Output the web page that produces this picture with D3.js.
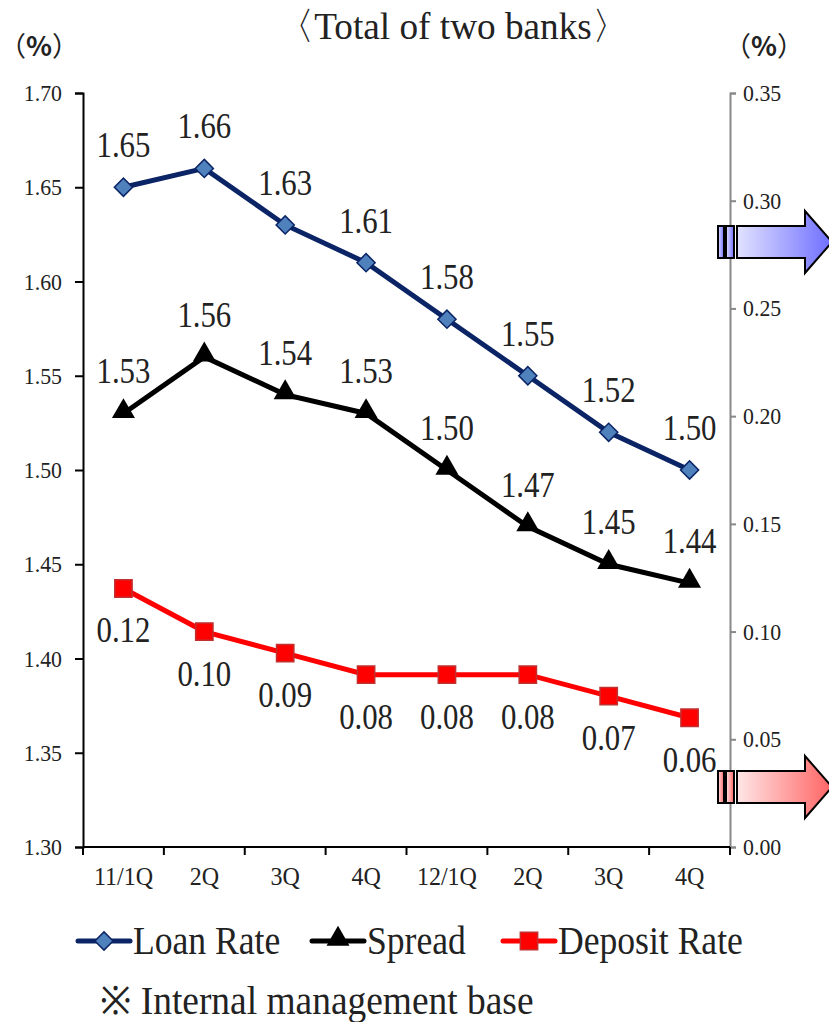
<!DOCTYPE html>
<html>
<head>
<meta charset="utf-8">
<script src="https://cdn.jsdelivr.net/npm/d3@7/dist/d3.min.js"></script>
<style>
  html, body { margin: 0; padding: 0; background: #fff; }
  svg { display: block; }
</style>
</head>
<body>
<svg id="chart" width="829" height="1022"></svg>
<script>
// Quarterly rates, total of two banks
const quarters = ["11/1Q", "2Q", "3Q", "4Q", "12/1Q", "2Q ", "3Q ", "4Q "];
const quarterLabels = ["11/1Q", "2Q", "3Q", "4Q", "12/1Q", "2Q", "3Q", "4Q"];
const loanRate = [1.65, 1.66, 1.63, 1.61, 1.58, 1.55, 1.52, 1.50];
const spread = [1.53, 1.56, 1.54, 1.53, 1.50, 1.47, 1.45, 1.44];
const depositRate = [0.12, 0.10, 0.09, 0.08, 0.08, 0.08, 0.07, 0.06];
const leftTicks = [1.30, 1.35, 1.40, 1.45, 1.50, 1.55, 1.60, 1.65, 1.70];
const rightTicks = [0.00, 0.05, 0.10, 0.15, 0.20, 0.25, 0.30, 0.35];

const svg = d3.select("#chart");
const serif = "'Liberation Serif', 'Times New Roman', serif";
const ink = "#222";
const SX = 0.88; // horizontal condensing of the serif face

const plot = { left: 83, right: 730, top: 93, bottom: 847 };

const x = d3.scaleBand().domain(quarters).range([plot.left, plot.right]);
const yL = d3.scaleLinear().domain([1.30, 1.70]).range([plot.bottom, plot.top]);
const yR = d3.scaleLinear().domain([0.00, 0.35]).range([plot.bottom, plot.top]);
const cx = (d, i) => x(quarters[i]) + x.bandwidth() / 2;

// Condensed serif text placed at (px, py)
function ctext(parent, px, py, str, size, anchor, sx = SX) {
  return parent.append("text")
    .attr("transform", `translate(${px},${py}) scale(${sx},1)`)
    .attr("text-anchor", anchor || "start")
    .attr("font-family", serif).attr("font-size", size).attr("fill", ink)
    .text(str);
}

// Gradients for the side arrows
const defs = svg.append("defs");
function grad(id, c0, c1) {
  const g = defs.append("linearGradient").attr("id", id)
    .attr("x1", "0%").attr("x2", "100%").attr("y1", "0%").attr("y2", "0%");
  g.append("stop").attr("offset", "0%").attr("stop-color", c0);
  g.append("stop").attr("offset", "100%").attr("stop-color", c1);
}
grad("gBlue", "#e2e2ff", "#6e6eff");
grad("gRed", "#ffe6e6", "#ff6464");

// Title and unit labels
ctext(svg, 453, 39, "〈Total of two banks〉", 38, "middle", 0.98);
function unit(px) {
  const t = svg.append("text").attr("x", px).attr("y", 56).attr("text-anchor", "middle")
    .attr("font-family", "'Noto Sans CJK JP', 'Noto Sans', sans-serif").attr("font-size", 27).attr("fill", ink);
  t.append("tspan").text("（");
  t.append("tspan").attr("font-weight", "bold").text("%");
  t.append("tspan").text("）");
}
unit(39);
unit(764);

// Axes
const leftAxis = svg.append("g").attr("transform", `translate(${plot.left},0)`)
  .call(d3.axisLeft(yL).tickValues(leftTicks).tickFormat(d3.format(".2f")).tickSize(8).tickPadding(6));
leftAxis.select(".domain").attr("stroke", "#000").attr("stroke-width", 2);
leftAxis.selectAll(".tick line").attr("stroke", "#000").attr("stroke-width", 2);
leftAxis.selectAll(".tick text").remove();
leftTicks.forEach(v => ctext(svg, 62, yL(v) + 8, d3.format(".2f")(v), 23, "end", 0.95));

const rightAxis = svg.append("g").attr("transform", `translate(${plot.right},0)`)
  .call(d3.axisRight(yR).tickValues(rightTicks).tickFormat(d3.format(".2f")).tickSize(6).tickPadding(8));
rightAxis.select(".domain").attr("stroke", "#888").attr("stroke-width", 2);
rightAxis.selectAll(".tick line").attr("stroke", "#888").attr("stroke-width", 2);
rightAxis.selectAll(".tick text").remove();
rightTicks.forEach(v => ctext(svg, 743, yR(v) + 8, d3.format(".2f")(v), 23, "start", 0.95));

const bottomAxis = svg.append("g").attr("transform", `translate(0,${plot.bottom})`);
bottomAxis.append("line").attr("x1", plot.left).attr("x2", plot.right)
  .attr("y1", 0).attr("y2", 0).attr("stroke", "#000").attr("stroke-width", 2);
const bounds = quarters.map(q => x(q)).concat([plot.right]);
bottomAxis.selectAll("line.bt").data(bounds).join("line").attr("class", "bt")
  .attr("x1", d => d).attr("x2", d => d).attr("y1", 0).attr("y2", 8)
  .attr("stroke", "#000").attr("stroke-width", 2);
quarters.forEach((q, i) => ctext(svg, cx(0, i), plot.bottom + 38, quarterLabels[i], 25, "middle", 0.96));

// Side arrows pointing to the right axis
function sideArrow(cy, fillId) {
  const g = svg.append("g");
  const bodyH = 32, headH = 62;
  g.append("rect").attr("x", 718).attr("y", cy - bodyH / 2).attr("width", 6).attr("height", bodyH)
    .attr("fill", `url(#${fillId})`).attr("stroke", "#000").attr("stroke-width", 2);
  g.append("rect").attr("x", 726).attr("y", cy - bodyH / 2).attr("width", 8).attr("height", bodyH)
    .attr("fill", `url(#${fillId})`).attr("stroke", "#000").attr("stroke-width", 2);
  const p = [[737, cy - bodyH / 2], [805, cy - bodyH / 2], [805, cy - headH / 2], [832, cy],
             [805, cy + headH / 2], [805, cy + bodyH / 2], [737, cy + bodyH / 2]];
  g.append("path").attr("d", d3.line()(p) + "Z")
    .attr("fill", `url(#${fillId})`).attr("stroke", "#000").attr("stroke-width", 2);
}
sideArrow(242, "gBlue");
sideArrow(787, "gRed");

// Series lines
const line = (scale) => d3.line().x(cx).y(d => scale(d));
svg.append("path").datum(loanRate).attr("d", line(yL))
  .attr("fill", "none").attr("stroke", "#0b2465").attr("stroke-width", 5);
svg.append("path").datum(spread).attr("d", line(yL))
  .attr("fill", "none").attr("stroke", "#000").attr("stroke-width", 5);
svg.append("path").datum(depositRate).attr("d", line(yR))
  .attr("fill", "none").attr("stroke", "#ff0000").attr("stroke-width", 5);

// Marker shapes
const diamondPath = d3.symbol().type(d3.symbolSquare).size(165)();
const trianglePath = d3.symbol().type(d3.symbolTriangle).size(230)();
const squarePath = d3.symbol().type(d3.symbolSquare).size(300)();

function diamond(g, tx, ty) {
  g.append("path").attr("transform", `translate(${tx},${ty}) rotate(45)`).attr("d", diamondPath)
    .attr("fill", "#4f81bd").attr("stroke", "#0b2465").attr("stroke-width", 1.5);
}
function tri(g, tx, ty) {
  g.append("path").attr("transform", `translate(${tx},${ty - 2})`).attr("d", trianglePath).attr("fill", "#000");
}
function sq(g, tx, ty) {
  g.append("path").attr("transform", `translate(${tx},${ty})`).attr("d", squarePath)
    .attr("fill", "#ff0000").attr("stroke", "#c03030").attr("stroke-width", 1.5);
}

const marks = svg.append("g");
loanRate.forEach((d, i) => diamond(marks, cx(d, i), yL(d)));
spread.forEach((d, i) => tri(marks, cx(d, i), yL(d)));
depositRate.forEach((d, i) => sq(marks, cx(d, i), yR(d)));

// Value labels
const labels = svg.append("g");
loanRate.forEach((d, i) => ctext(labels, cx(d, i), yL(d) - 30, d.toFixed(2), 35, "middle"));
spread.forEach((d, i) => ctext(labels, cx(d, i), yL(d) - 30, d.toFixed(2), 35, "middle"));
depositRate.forEach((d, i) => ctext(labels, cx(d, i), yR(d) + 54, d.toFixed(2), 35, "middle"));

// Legend
const legend = svg.append("g").attr("transform", "translate(0,941)");
const items = [
  { x: 78, name: "Loan Rate", stroke: "#0b2465", mark: diamond },
  { x: 312, name: "Spread", stroke: "#000", mark: tri },
  { x: 503, name: "Deposit Rate", stroke: "#ff0000", mark: sq }
];
items.forEach(it => {
  const g = legend.append("g").attr("transform", `translate(${it.x},0)`);
  g.append("line").attr("x1", 0).attr("x2", 52).attr("y1", 0).attr("y2", 0)
    .attr("stroke", it.stroke).attr("stroke-width", 5).attr("stroke-linecap", "round");
  it.mark(g, 26, 0);
  ctext(g, 55, 13, it.name, 40, "start", 0.89);
});

// Footnote
ctext(svg, 100, 1014, "※ Internal management base", 39, "start", 0.96);
</script>
</body>
</html>
